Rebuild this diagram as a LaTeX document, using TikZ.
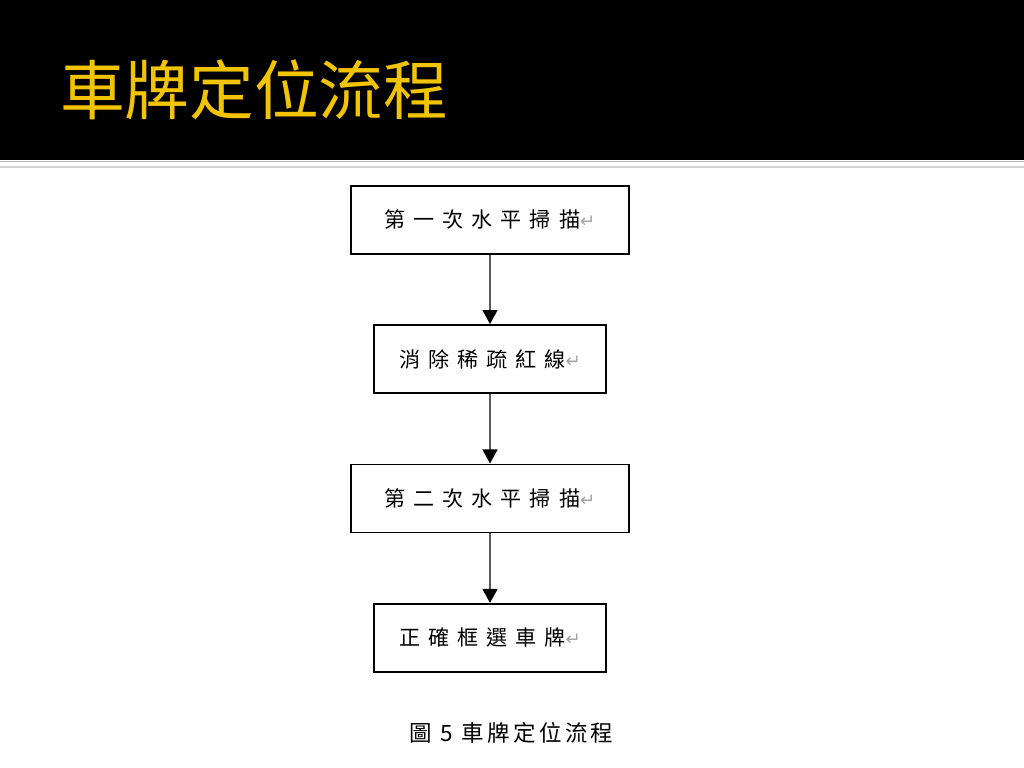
\documentclass[tikz,border=0pt]{standalone}
\usepackage{fontspec}
\usepackage{xcolor}
\usepackage{tikz}
\usetikzlibrary{arrows.meta,positioning}
\setmainfont{Noto Sans CJK TC}
\newfontfamily\boxfont[LetterSpace=38]{Noto Sans CJK TC}
\newfontfamily\capfont[LetterSpace=15]{Noto Sans CJK TC}
\newfontfamily\symfont{DejaVu Sans}
\definecolor{titlegold}{RGB}{242,196,0}
\newcommand{\ret}{{\symfont\color{gray!70}\fontsize{13}{13}\selectfont ↵}}

\begin{document}
\begin{tikzpicture}[arrow/.style = {line width=1.5pt, draw=black!65, -{Triangle[width=10.5pt,length=10pt,color=black]}}, node distance=1.74cm]
		\tikzset{stage/.style={draw,rectangle,line width=1.3pt,minimum height=1.7cm,inner sep=0pt,align=center,font=\boxfont\fontsize{15}{15}\selectfont}}
		\useasboundingbox (0,0) rectangle (25.6,19.2);
		\fill[white] (0,0) rectangle (25.6,19.2);
		\fill[black] (0,15.2) rectangle (25.6,19.2);
		\fill[gray!55] (0,15.175) rectangle (25.6,15.14);
		\fill[gray!35] (0,15.06) rectangle (25.6,15.01);

		\node[anchor=west, text=titlegold, inner sep=0pt, font=\fontsize{46}{46}\selectfont] (title) at (1.5,16.95) {車牌定位流程};

		\node[stage, minimum width=6.95cm] (scan1) at (12.25,13.71) {第一次水平掃描\ret};
		\node[stage, minimum width=5.8cm, below=of scan1] (clean) {消除稀疏紅線\ret};
		\node[stage, minimum width=6.95cm, below=of clean] (scan2) {第二次水平掃描\ret};
		\node[stage, minimum width=5.8cm, below=of scan2] (plate) {正確框選車牌\ret};

		\node[inner sep=0pt, font=\capfont\fontsize{16}{16}\selectfont] (caption) at (12.79,0.875) {圖 5 車牌定位流程};

		\draw [arrow] (scan1) -- (clean);
		\draw [arrow] (clean) -- (scan2);
		\draw [arrow] (scan2) -- (plate);

	\end{tikzpicture}
\end{document}
